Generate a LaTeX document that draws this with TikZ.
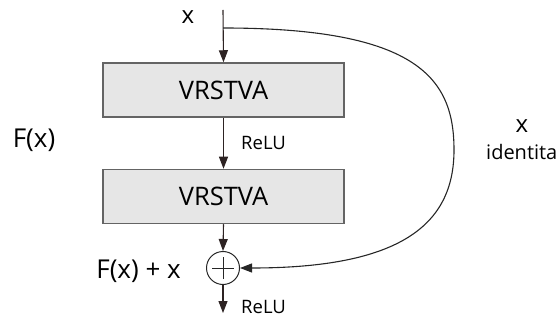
\documentclass[tikz,border=0pt]{standalone}
\usepackage{fontspec}
\setmainfont{Open Sans}
\usetikzlibrary{arrows.meta}
\definecolor{conn}{RGB}{45,35,35}
\definecolor{boxfill}{RGB}{230,230,230}
\definecolor{boxline}{RGB}{100,100,100}
\tikzset{
  layerbox/.style={draw=boxline, line width=1.5pt, fill=boxfill, minimum width=241pt, minimum height=54pt, inner sep=0pt, font=\fontsize{25.5}{28}\selectfont},
  conn/.style={draw=conn, line width=1.1pt, -{Triangle[length=12pt,width=9pt]}},
  curve/.style={draw=black!85, line width=1.1pt, -{Triangle[length=12pt,width=9pt]}},
  sumnode/.style={circle, draw=black!85, line width=1pt, minimum size=33pt, inner sep=0pt},
  biglabel/.style={font=\fontsize{26}{28}\selectfont, inner sep=0pt},
  smalllabel/.style={font=\fontsize{18.5}{20}\selectfont, inner sep=0pt},
}
\begin{document}
\begin{tikzpicture}[x=1pt,y=-1pt]
\useasboundingbox (0,0) rectangle (556,320);
\node[layerbox] (b1) at (223.5,90) {VRSTVA};
\node[layerbox] (b2) at (223.5,196.5) {VRSTVA};
\node[sumnode] (sum) at (223,268) {};
\draw[black!85, line width=1pt] ([xshift=-11pt]sum.center) -- ([xshift=11pt]sum.center)
  ([yshift=-11pt]sum.center) -- ([yshift=11pt]sum.center);
\coordinate (top) at (223,10);
\coordinate (branch) at (223,28);
\coordinate (out) at (223,313);
\draw[conn] (top) -- (b1.north);
\draw[conn] (b1.south) -- (b2.north);
\draw[conn] (b2.south) -- (sum.north);
\draw[conn] (sum.south) -- (out);
\draw[curve] (branch) .. controls (420,28) and (454,80) .. (454,150)
  .. controls (454,225) and (400,268) .. (sum.east);
\node[font=\fontsize{24}{26}\selectfont, inner sep=0pt] (xtop) at (188,17) {x};
\node[biglabel] (fx) at (34,140) {F(x)};
\node[smalllabel, anchor=west] (relu1) at (241,143) {ReLU};
\node[smalllabel, anchor=west] (relu2) at (241,307) {ReLU};
\node[biglabel, anchor=east] (fxx) at (181,271) {F(x) + x};
\node[font=\fontsize{24}{26}\selectfont, inner sep=0pt] (xid) at (522,126) {x};
\node[font=\fontsize{20}{22}\selectfont, inner sep=0pt, anchor=west] (ident) at (486,152) {identita};
\end{tikzpicture}
\end{document}
